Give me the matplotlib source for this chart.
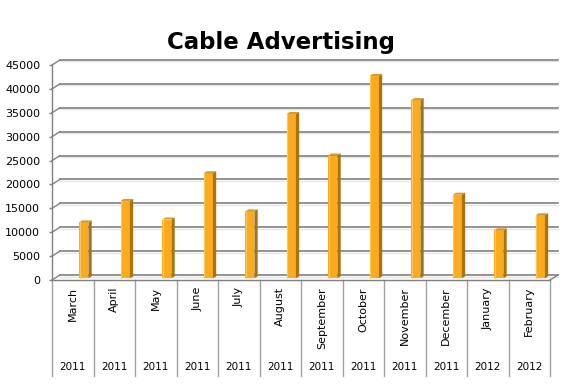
import matplotlib
matplotlib.use("Agg")
import matplotlib.pyplot as plt
from matplotlib.patches import Polygon

# ---- data ----
months = ["March", "April", "May", "June", "July", "August", "September",
          "October", "November", "December", "January", "February"]
years = ["2011", "2011", "2011", "2011", "2011", "2011", "2011",
         "2011", "2011", "2011", "2012", "2012"]
values = [11700, 16200, 12300, 22000, 14000, 34400, 25700,
          42350, 37300, 17500, 10050, 13200]
yticks = [0, 5000, 10000, 15000, 20000, 25000, 30000, 35000, 40000, 45000]
title = "Cable Advertising"

# ---- layout (pixels) ----
W, H = 578, 390
ax_left, ax_right, ax_top, ax_bottom = 52, 550, 65, 280
fig = plt.figure(figsize=(W / 100, H / 100), dpi=100)
ax = fig.add_axes([ax_left / W, 1 - ax_bottom / H,
                   (ax_right - ax_left) / W, (ax_bottom - ax_top) / H])
n = len(months)
ymax = yticks[-1]
ax.set_xlim(0, n)
ax.set_ylim(0, ymax)
px_x = n / (ax_right - ax_left)          # data units per pixel (x)
px_y = ymax / (ax_bottom - ax_top)       # data units per pixel (y)

grid_c = "#808080"
shadow_c = "#E4E4E4"
depth_dx, depth_dy = 8 * px_x, 5 * px_y

# back wall gridlines + left diagonals
for v in yticks:
    ax.plot([depth_dx, n + depth_dx], [v + depth_dy - 1.5 * px_y] * 2,
            color=shadow_c, lw=0.9, clip_on=False, zorder=1)
    ax.plot([depth_dx, n + depth_dx], [v + depth_dy] * 2,
            color=grid_c, lw=1.2, clip_on=False, zorder=1.5)
    ax.plot([0, depth_dx], [v, v + depth_dy], color=grid_c, lw=1.0,
            clip_on=False, zorder=1.5)
# floor right edge
ax.plot([n, n + depth_dx], [0, depth_dy], color=grid_c, lw=1.0,
        clip_on=False, zorder=1.5)

# bars (front + side + top)
bar_shift = 11 * px_x
bar_w = 9.3 * px_x
base = 1.7 * px_y
sx, sy = 3.3 * px_x, 2.0 * px_y
front_c, side_c, top_c = "#FDAB1E", "#A9730F", "#D9962A"
xs = [i + 0.5 + bar_shift for i in range(n)]
ax.bar(xs, values, width=bar_w, bottom=base, color=front_c,
       edgecolor="none", zorder=3)
for x, v in zip(xs, values):
    x0, x1 = x - bar_w / 2, x + bar_w / 2
    top = base + v
    ax.add_patch(Polygon([(x1, base), (x1 + sx, base + sy),
                          (x1 + sx, top + sy), (x1, top)],
                         closed=True, facecolor=side_c, edgecolor="none",
                         zorder=3))
    ax.add_patch(Polygon([(x0, top), (x0 + sx, top + sy),
                          (x1 + sx, top + sy), (x1, top)],
                         closed=True, facecolor=top_c, edgecolor="none",
                         zorder=3))
    ax.plot([x0 + 0.6 * px_x] * 2, [base, top], color="#FFC75A", lw=0.8,
            zorder=3.5)

# spines / axes
for s in ["top", "right"]:
    ax.spines[s].set_visible(False)
for s in ["left", "bottom"]:
    ax.spines[s].set_color(grid_c)
    ax.spines[s].set_linewidth(1.0)
ax.set_yticks(yticks)
ax.set_yticklabels([str(v) for v in yticks])
ax.tick_params(axis="y", length=2.5, width=1.0, color=grid_c, pad=6,
               labelsize=8, labelcolor="black")
ax.set_xticks([])

# category separators
sep_bottom = -(376 - ax_bottom) / (ax_bottom - ax_top)
xt = ax.get_xaxis_transform()
for i in range(n + 1):
    ax.plot([i, i], [0, sep_bottom], color="#A0A0A0", lw=1.0,
            transform=xt, clip_on=False, zorder=1)

month_y = -(287 - ax_bottom) / (ax_bottom - ax_top)
year_y = -(367 - ax_bottom) / (ax_bottom - ax_top)
for i, (m, yr) in enumerate(zip(months, years)):
    ax.text(i + 0.5, month_y, m, rotation=90, ha="center", va="top",
            fontsize=8, transform=xt)
    ax.text(i + 0.5, year_y, yr, ha="center", va="center",
            fontsize=7.5, transform=xt)

fig.text(281 / W, 1 - 42 / H, title, ha="center", va="center",
         fontsize=16.5, fontweight="bold")

fig.savefig("out.png", dpi=100)
